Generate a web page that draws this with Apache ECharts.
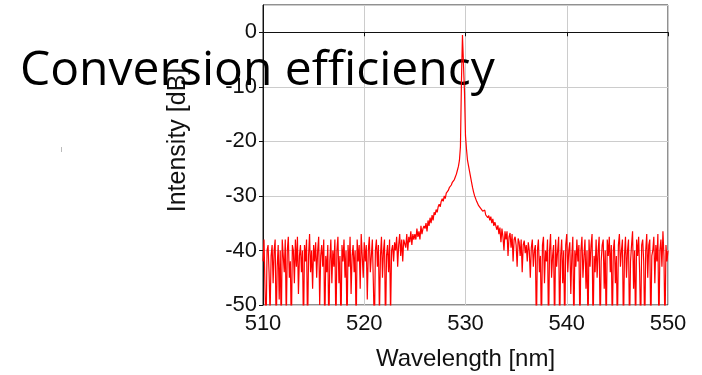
<!DOCTYPE html>
<html><head><meta charset="utf-8">
<script src="https://cdn.jsdelivr.net/npm/echarts@6/dist/echarts.min.js"></script>
<style>html,body{margin:0;padding:0;background:#fff}#c{width:702px;height:375px}</style>
</head><body><div id="c"></div>
<script>
const titleText = "Conversion efficiency";
const xName = "Wavelength [nm]";
const yName = "Intensity [dB]";
const xTicks = [510, 520, 530, 540, 550];
const yTicks = [-50, -40, -30, -20, -10, 0];
const wavelengthStart = 510;
const wavelengthStep = 0.1;
// intensity in dB, one value per 0.1 nm (rows = 1 nm)
const intensity = [
-42,-38,-47,-55,-40,-39,-44,-52,-41,-39,
-46,-40,-38,-55,-43,-39,-49,-40,-55,-38,
-41,-44,-38,-53,-40,-37.5,-45,-42,-55,-39,
-40,-46,-38,-43,-37.5,-48,-41,-39,-44,-40,
-55,-39,-42,-38,-55,-41,-37,-44,-40,-47,
-39,-42,-38.5,-45,-40,-37.5,-50,-41,-39,-43,
-38,-55,-41,-44,-39,-55,-42,-38,-46,-40,
-43,-38,-55,-40,-37.5,-46,-41,-55,-39,-42,
-38,-45,-40,-55,-39,-43,-37.5,-48,-41,-39,
-44,-40,-55,-38,-42,-39,-47,-37,-41,-45,
-38.5,-42,-39,-49,-40,-37.5,-44,-41,-38,-46,
-55,-40,-38,-43,-39,-52,-41,-37.5,-45,-40,
-38,-55,-41,-39,-44,-38,-52,-40,-39,-42,
-38.5,-40,-37.5,-43,-39,-37,-41,-38,-42,-38,
-38,-39.5,-37,-40,-37.5,-38.5,-36.5,-39,-37,-38,
-37,-38,-36,-37.5,-36.5,-38,-35.5,-37,-36,-35.5,
-36,-35,-36.5,-34.5,-35.5,-34,-35,-33.5,-34.5,-33,
-33.5,-32.5,-33,-32,-31.5,-32,-31,-30.5,-31,-30,
-30.5,-29.5,-29.8,-29,-28.5,-28.7,-28,-27.5,-27.5,-27,
-26.5,-26,-25.3,-24.6,-23.5,-21,-9,-0.5,-0.2,-11,
-19,-21.5,-23.5,-24.5,-25.5,-26.5,-27.5,-28.5,-29.3,-30,
-30.5,-31,-31.2,-31.8,-32,-32.3,-32.1,-32.8,-33,-32.6,
-33.5,-33.2,-34,-33.6,-34.5,-33.8,-35,-34.2,-35.5,-34.8,
-35,-36.2,-35.4,-37,-35.8,-38.5,-36,-37.5,-40,-36.5,
-38,-36.5,-41,-37.5,-36.8,-39.5,-37,-42,-38,-37.5,
-39,-43,-37.8,-38.5,-41,-38,-44,-39,-38.2,-40.5,
-39,-42,-38.5,-40,-45,-39.5,-38,-43,-40,-39,
-55,-40,-38,-44,-41,-55,-39,-37.5,-46,-40,
-42,-38,-55,-40,-37,-45,-41,-39,-55,-38,
-43,-40,-37.5,-55,-41,-38,-46,-40,-55,-39,
-37,-44,-40,-38.5,-48,-41,-37.5,-55,-40,-43,
-38,-42,-39,-55,-40,-37.5,-45,-41,-38,-47,
-40,-55,-38,-43,-39,-37,-55,-41,-44,-38,
-45,-40,-37.5,-55,-42,-39,-38,-47,-40,-55,
-38,-41,-37.5,-44,-39,-55,-40,-38,-46,-41,
-55,-39,-37,-43,-40,-38,-55,-41,-37.5,-45,
-40,-38,-55,-42,-39,-36.5,-47,-40,-55,-38,
-41,-37.5,-44,-55,-39,-38,-42,-55,-40,-37,
-45,-39,-38,-55,-41,-40,-37.5,-46,-39,-42,
-37,-55,-40,-38,-43,-36.5,-41,-55,-39,-42,
-40
];
const seriesData = intensity.map((v, i) => [+(wavelengthStart + i * wavelengthStep).toFixed(1), v]);

const chart = echarts.init(document.getElementById('c'), null, {renderer: 'canvas'});
const fam = 'Liberation Sans, Arial, sans-serif';
const tickFont = {fontFamily: fam, fontSize: 22, color: '#111'};
const nameFont = {fontFamily: fam, fontSize: 24, color: '#111'};
chart.setOption({
  animation: false,
  title: {
    text: titleText, left: 15, top: 42, z: 1,
    textStyle: {fontFamily: 'Open Sans', fontWeight: 'normal', fontSize: 48, color: '#000'}
  },
  grid: {left: 263, right: 34, top: 5, bottom: 70, outerBoundsMode: 'none', containLabel: false,
    show: true, borderColor: '#222', borderWidth: 1, backgroundColor: 'transparent'},
  xAxis: {
    type: 'value', min: 510, max: 550, interval: 10,
    name: xName, nameLocation: 'middle', nameGap: 42, nameTextStyle: nameFont,
    axisLine: {lineStyle: {color: '#111', width: 1}},
    axisTick: {show: true, inside: false, length: 4, lineStyle: {color: '#111'}},
    axisLabel: Object.assign({margin: 8}, tickFont),
    splitLine: {show: true, lineStyle: {color: '#cccccc', width: 1}}
  },
  yAxis: {
    type: 'value', min: -50, max: 5, interval: 10,
    name: yName, nameLocation: 'middle', nameGap: 72, nameRotate: 90,
    nameTextStyle: Object.assign({padding: [0, 0, 0, 30]}, nameFont, {fontSize: 25}),
    axisLine: {show: true, lineStyle: {color: '#111', width: 1}},
    axisTick: {show: true, inside: false, length: 4, lineStyle: {color: '#111'}},
    axisLabel: Object.assign({margin: 6, showMaxLabel: false, formatter: v => (yTicks.includes(v) ? String(v) : '')}, tickFont),
    splitLine: {show: true, lineStyle: {color: '#cccccc', width: 1}}
  },
  graphic: [{type: 'rect', shape: {x: 61, y: 147, width: 1, height: 5}, style: {fill: '#bbbbbb'}}],
  series: [{
    type: 'line', data: seriesData, showSymbol: false, clip: true,
    lineStyle: {color: '#ff0000', width: 1.2}, z: 3
  }]
});
</script></body></html>
